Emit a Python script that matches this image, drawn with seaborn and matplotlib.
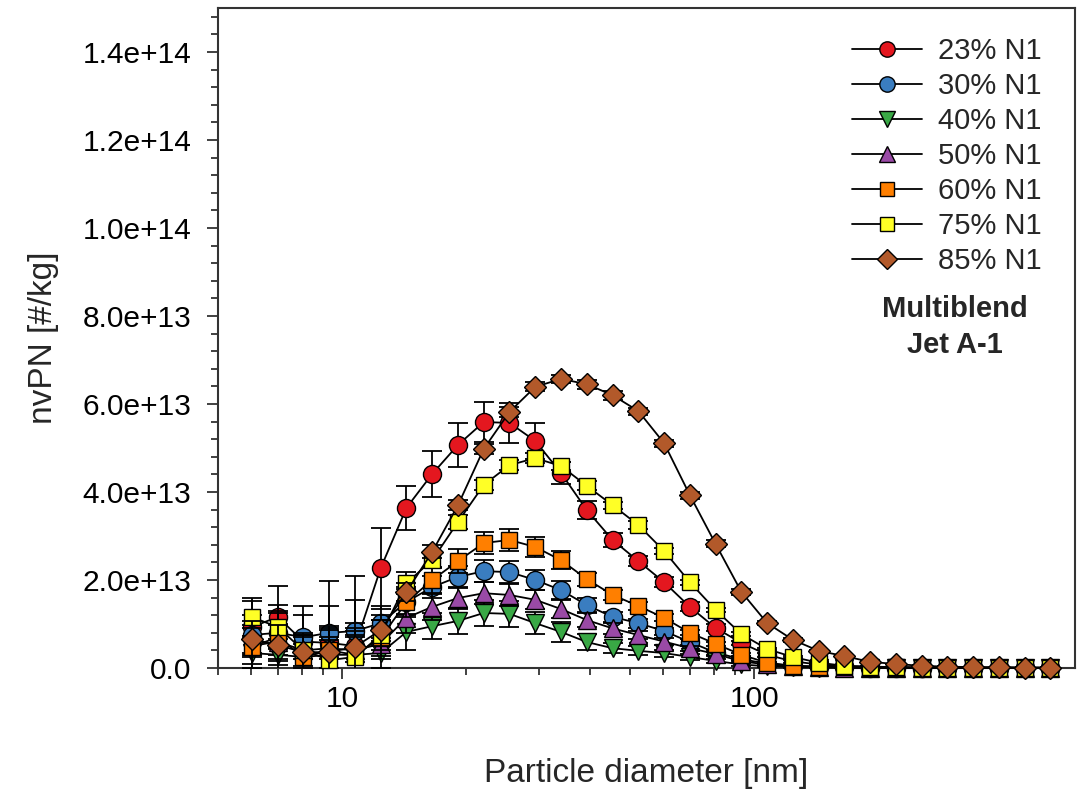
import numpy as np
import matplotlib
matplotlib.use("Agg")
import matplotlib.pyplot as plt
from matplotlib.lines import Line2D
from matplotlib.ticker import FixedLocator, FuncFormatter, MultipleLocator, NullFormatter
import seaborn as sns

# ---------------- data (values in units of 1e13 #/kg) ----------------
diameter = [6.04, 6.98, 8.06, 9.31, 10.75, 12.41, 14.33, 16.55, 19.11, 22.07,
            25.48, 29.43, 33.98, 39.24, 45.32, 52.33, 60.43, 69.78, 80.58, 93.06,
            107.5, 124.1, 143.3, 165.5, 191.1, 220.7, 254.8, 294.3, 339.8, 392.4,
            453.2, 523.3]

labels = ["23% N1", "30% N1", "40% N1", "50% N1", "60% N1", "75% N1", "85% N1"]

n1_23 = [0.93, 1.16, 0.60, 0.57, 0.50, 2.27, 3.64, 4.41, 5.07, 5.59, 5.57, 5.16, 4.43, 3.59,
         2.91, 2.43, 1.95, 1.39, 0.91, 0.57, 0.30, 0.15, 0.08, 0.04, 0.03, 0.02, 0.01, 0.01,
         0.01, 0.01, 0.01, 0.01]
n1_30 = [0.75, 0.80, 0.70, 0.80, 0.84, 1.02, 1.50, 1.84, 2.07, 2.20, 2.18, 2.00, 1.77, 1.43,
         1.16, 1.02, 0.84, 0.59, 0.35, 0.20, 0.10, 0.05, 0.03, 0.02, 0.01, 0.01, 0.01, 0.01,
         0.00, 0.00, 0.00, 0.00]
n1_40 = [0.34, 0.30, 0.25, 0.30, 0.30, 0.34, 0.82, 0.95, 1.07, 1.25, 1.23, 1.02, 0.82, 0.59,
         0.45, 0.39, 0.34, 0.25, 0.16, 0.08, 0.04, 0.02, 0.01, 0.01, 0.00, 0.00, 0.00, 0.00,
         0.00, 0.00, 0.00, 0.00]
n1_50 = [0.50, 0.60, 0.40, 0.45, 0.40, 0.55, 1.14, 1.39, 1.59, 1.70, 1.66, 1.55, 1.34, 1.09,
         0.90, 0.75, 0.60, 0.45, 0.32, 0.15, 0.08, 0.04, 0.02, 0.01, 0.01, 0.00, 0.00, 0.00,
         0.00, 0.00, 0.00, 0.00]
n1_60 = [0.48, 0.70, 0.25, 0.40, 0.30, 0.68, 1.50, 2.00, 2.43, 2.84, 2.91, 2.75, 2.45, 2.02,
         1.66, 1.41, 1.14, 0.80, 0.55, 0.30, 0.12, 0.05, 0.03, 0.02, 0.01, 0.01, 0.00, 0.00,
         0.00, 0.00, 0.00, 0.00]
n1_75 = [1.16, 0.93, 0.40, 0.18, 0.25, 0.75, 1.93, 2.45, 3.32, 4.16, 4.61, 4.77, 4.59, 4.14,
         3.70, 3.25, 2.66, 1.95, 1.32, 0.77, 0.43, 0.25, 0.12, 0.05, 0.03, 0.02, 0.01, 0.01,
         0.01, 0.00, 0.00, 0.00]
n1_85 = [0.66, 0.52, 0.36, 0.36, 0.48, 0.86, 1.73, 2.64, 3.70, 4.98, 5.82, 6.39, 6.57, 6.45,
         6.20, 5.84, 5.11, 3.93, 2.82, 1.73, 1.02, 0.64, 0.39, 0.27, 0.14, 0.09, 0.05, 0.03,
         0.02, 0.02, 0.01, 0.01]

err_23 = [0.60, 0.70, 0.80, 1.40, 1.60, 0.92, 0.50, 0.52, 0.50, 0.45, 0.45, 0.40, 0.25, 0.20,
          0.15, 0.12, 0.12, 0.10, 0.08, 0.05, 0.04, 0.03, 0.02, 0.01, 0.01, 0.01, 0.01, 0.01,
          0.01, 0.01, 0.01, 0.01]
err_30 = [0.45, 0.50, 0.50, 0.60, 0.70, 0.40, 0.30, 0.25, 0.25, 0.25, 0.25, 0.22, 0.20, 0.15,
          0.12, 0.10, 0.08, 0.06, 0.05, 0.03, 0.02, 0.01, 0.01, 0.01, 0.01, 0.01, 0.01, 0.01,
          0.01, 0.01, 0.01, 0.01]
err_40 = [0.35, 0.35, 0.30, 0.40, 0.40, 0.35, 0.40, 0.30, 0.30, 0.30, 0.30, 0.25, 0.22, 0.18,
          0.12, 0.10, 0.08, 0.06, 0.04, 0.03, 0.02, 0.01, 0.01, 0.01, 0.01, 0.01, 0.01, 0.01,
          0.01, 0.01, 0.01, 0.01]
err_50 = [0.40, 0.40, 0.35, 0.45, 0.45, 0.35, 0.35, 0.30, 0.25, 0.25, 0.25, 0.22, 0.20, 0.15,
          0.12, 0.10, 0.08, 0.06, 0.04, 0.03, 0.02, 0.01, 0.01, 0.01, 0.01, 0.01, 0.01, 0.01,
          0.01, 0.01, 0.01, 0.01]
err_60 = [0.50, 0.55, 0.45, 0.55, 0.60, 0.40, 0.35, 0.30, 0.28, 0.25, 0.24, 0.22, 0.20, 0.15,
          0.12, 0.10, 0.08, 0.06, 0.05, 0.03, 0.02, 0.01, 0.01, 0.01, 0.01, 0.01, 0.01, 0.01,
          0.01, 0.01, 0.01, 0.01]
err_75 = [0.43, 0.50, 0.40, 0.45, 0.50, 0.35, 0.25, 0.18, 0.15, 0.12, 0.12, 0.12, 0.10, 0.10,
          0.08, 0.08, 0.06, 0.06, 0.05, 0.04, 0.03, 0.02, 0.01, 0.01, 0.01, 0.01, 0.01, 0.01,
          0.01, 0.01, 0.01, 0.01]
err_85 = [0.40, 0.45, 0.40, 0.50, 0.55, 0.35, 0.20, 0.15, 0.12, 0.12, 0.12, 0.10, 0.10, 0.10,
          0.10, 0.08, 0.08, 0.08, 0.08, 0.06, 0.05, 0.04, 0.03, 0.02, 0.02, 0.01, 0.01, 0.01,
          0.01, 0.01, 0.01, 0.01]

series = [n1_23, n1_30, n1_40, n1_50, n1_60, n1_75, n1_85]
errors = [err_23, err_30, err_40, err_50, err_60, err_75, err_85]

# ---------------- styles ----------------
face_colors = ["#e4171f", "#3a7dc0", "#39a845", "#9a4aa6", "#ff7f00", "#ffff26", "#b2592a"]
markers = ["o", "o", "v", "^", "s", "s", "D"]
msizes = [13, 13, 13, 13, 11.5, 11.5, 11.5]

sns.set_style("ticks")
plt.rcParams["font.family"] = ["Liberation Sans", "DejaVu Sans"]

fig = plt.figure(figsize=(10.78, 7.91), dpi=100)
ax = fig.add_axes([0.2022, 0.1555, 0.7950, 0.8344])

scale = 1e13
for i, (vals, err) in enumerate(zip(series, errors)):
    y = np.array(vals) * scale
    e = np.array(err) * scale
    z = 3 + i
    ax.errorbar(diameter, y, yerr=e, fmt="none", ecolor="black", elinewidth=1.3,
                capsize=7, capthick=1.3, zorder=z)
    sns.lineplot(x=diameter, y=y, ax=ax, color="black", lw=1.3, marker=markers[i],
                 markersize=msizes[i], markerfacecolor=face_colors[i],
                 markeredgecolor="black", markeredgewidth=1.0, zorder=z + 0.5,
                 legend=False, errorbar=None, clip_on=False)

ax.set_xscale("log")
ax.set_xlim(5, 600)
ax.set_ylim(0, 1.5e14)

ax.xaxis.set_major_locator(FixedLocator([10, 100]))
ax.xaxis.set_major_formatter(FuncFormatter(lambda v, p: f"{v:g}"))
ax.xaxis.set_minor_locator(FixedLocator([5, 6, 7, 8, 9, 20, 30, 40, 50, 60, 70, 80, 90]))
ax.xaxis.set_minor_formatter(NullFormatter())

ax.yaxis.set_major_locator(MultipleLocator(2e13))
ax.yaxis.set_minor_locator(MultipleLocator(4e12))
ax.yaxis.set_major_formatter(FuncFormatter(lambda v, p: "0.0" if abs(v) < 1 else f"{v:.1e}"))

ax.tick_params(axis="both", which="major", direction="out", length=8, width=1.3,
               labelsize=21.5, colors="#333333", labelcolor="black")
ax.tick_params(axis="both", which="minor", direction="out", length=5, width=1.3,
               colors="#333333")
ax.tick_params(axis="x", which="major", pad=4)
ax.tick_params(axis="y", which="major", pad=11)
ax.tick_params(top=False, right=False, which="both")

for sp in ax.spines.values():
    sp.set_visible(True)
    sp.set_linewidth(1.5)
    sp.set_color("#333333")

ax.set_xlabel("Particle diameter [nm]", fontsize=24, labelpad=33)
ax.set_ylabel("nvPN [#/kg]", fontsize=24, labelpad=17)

handles = [Line2D([0], [0], color="black", lw=1.3, marker=markers[i], markersize=msizes[i] * 0.85,
                  markerfacecolor=face_colors[i], markeredgecolor="black", markeredgewidth=1.0)
           for i in range(len(labels))]
ax.legend(handles, labels, loc="upper right", bbox_to_anchor=(0.995, 1.0), frameon=False,
          fontsize=21, handlelength=2.4, handletextpad=0.55, labelspacing=0.24,
          borderaxespad=0.6)

fig.text(955 / 1078, 1 - 327 / 791, "Multiblend\nJet A-1", ha="center", va="center",
         fontsize=21, fontweight="bold", linespacing=1.35)

fig.savefig("out.png", dpi=100)
